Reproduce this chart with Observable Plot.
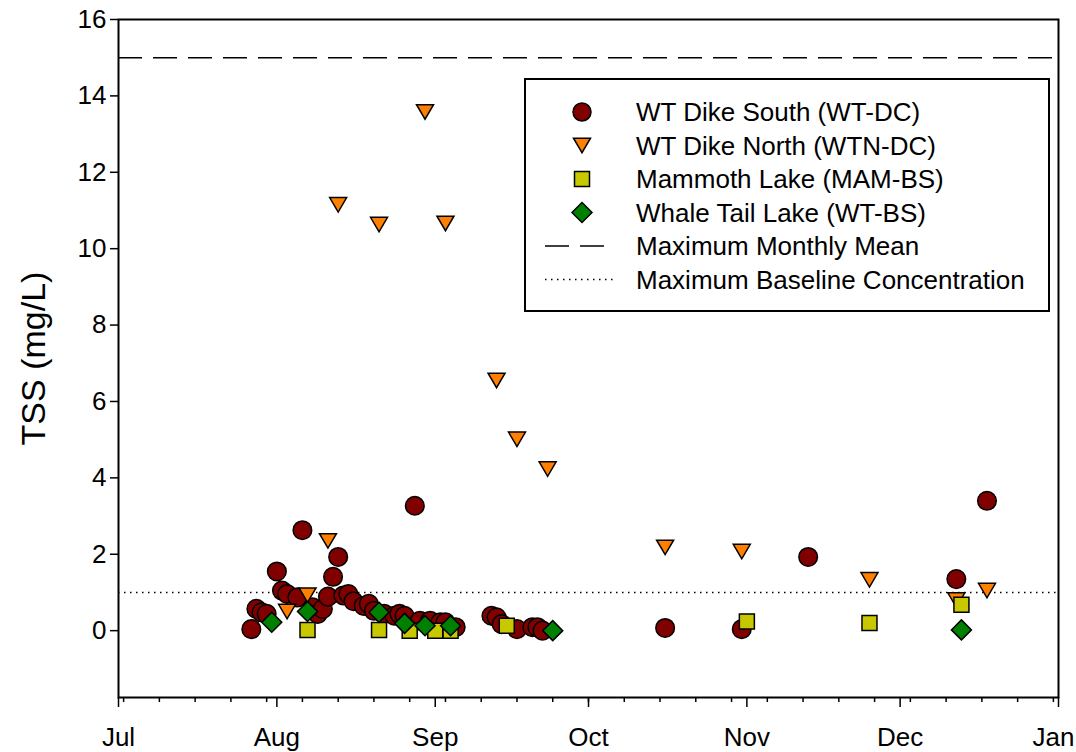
<!DOCTYPE html>
<html>
<head>
<meta charset="utf-8">
<script src="https://cdn.jsdelivr.net/npm/d3@7"></script>
<script src="https://cdn.jsdelivr.net/npm/@observablehq/plot@0.6"></script>
<style>
  body { margin: 0; background: #fff; }
  #wrap { position: relative; width: 1076px; height: 752px; font-family: "Liberation Sans", Arial, sans-serif; }
  #legend { position: absolute; left: 524px; top: 78px; width: 522px; height: 230px; border: 2px solid #000; background: #fff; }
</style>
</head>
<body>
<div id="wrap"></div>
<script>
// WT Dike South (WT-DC)
const wtdcDates = ["2019-07-27","2019-07-28","2019-07-29","2019-07-30","2019-08-01","2019-08-02","2019-08-03","2019-08-05","2019-08-06","2019-08-08","2019-08-09","2019-08-10","2019-08-11","2019-08-12","2019-08-13","2019-08-14","2019-08-15","2019-08-16","2019-08-18","2019-08-19","2019-08-20","2019-08-22","2019-08-24","2019-08-25","2019-08-26","2019-08-28","2019-08-29","2019-08-31","2019-09-02","2019-09-03","2019-09-05","2019-09-12","2019-09-13","2019-09-14","2019-09-17","2019-09-20","2019-09-21","2019-09-22","2019-10-16","2019-10-31","2019-11-13","2019-12-12","2019-12-18"];
const wtdcValues = [0.04,0.57,0.48,0.44,1.55,1.05,0.96,0.87,2.63,0.61,0.44,0.57,0.89,1.41,1.93,0.92,0.96,0.77,0.65,0.70,0.52,0.44,0.39,0.44,0.39,3.27,0.26,0.26,0.22,0.22,0.09,0.39,0.35,0.17,0.04,0.09,0.09,0.0,0.07,0.04,1.93,1.35,3.40];

// WT Dike North (WTN-DC)
const wtndcDates = ["2019-08-03","2019-08-07","2019-08-11","2019-08-13","2019-08-21","2019-08-30","2019-09-03","2019-09-13","2019-09-17","2019-09-23","2019-10-16","2019-10-31","2019-11-25","2019-12-12","2019-12-18"];
const wtndcValues = [0.50,0.93,2.35,11.15,10.63,13.58,10.66,6.55,5.01,4.23,2.18,2.07,1.33,0.80,1.05];

// Mammoth Lake (MAM-BS)
const mamDates = ["2019-08-07","2019-08-21","2019-08-27","2019-09-01","2019-09-04","2019-09-15","2019-11-01","2019-11-25","2019-12-13"];
const mamValues = [0.02,0.02,0.0,0.0,0.0,0.13,0.24,0.20,0.68];

// Whale Tail Lake (WT-BS)
const wtbsDates = ["2019-07-31","2019-08-07","2019-08-21","2019-08-26","2019-08-30","2019-09-04","2019-09-24","2019-12-13"];
const wtbsValues = [0.22,0.50,0.48,0.19,0.13,0.13,0.0,0.02];

// Guideline values
const maxMonthlyMean = 15;
const maxBaseline = 1;

// Axis ticks
const yTicks = [0, 2, 4, 6, 8, 10, 12, 14, 16];
const xStart = "2019-07-01", xEnd = "2020-01-01";

const seriesNames = ["WT Dike South (WT-DC)", "WT Dike North (WTN-DC)", "Mammoth Lake (MAM-BS)", "Whale Tail Lake (WT-BS)", "Maximum Monthly Mean", "Maximum Baseline Concentration"];
const colors = { wtdc: "#800000", wtndc: "#FF8000", mam: "#C8C800", wtbs: "#008000" };

const toRows = (dates, values) => dates.map((d, i) => ({ date: new Date(d), value: values[i] }));
const wtdc = toRows(wtdcDates, wtdcValues);
const wtndc = toRows(wtndcDates, wtndcValues);
const mam = toRows(mamDates, mamValues);
const wtbs = toRows(wtbsDates, wtbsValues);

// custom symbols
const triDown = { draw(ctx) { const w = 17, h = 14.5; ctx.moveTo(-w/2, -h/2); ctx.lineTo(w/2, -h/2); ctx.lineTo(0, h/2); ctx.closePath(); } };
const sq = { draw(ctx) { const a = 7.5; ctx.moveTo(-a, -a); ctx.lineTo(a, -a); ctx.lineTo(a, a); ctx.lineTo(-a, a); ctx.closePath(); } };
const diam = { draw(ctx) { const a = 10; ctx.moveTo(0, -a); ctx.lineTo(a, 0); ctx.lineTo(0, a); ctx.lineTo(-a, 0); ctx.closePath(); } };

const d0 = new Date(xStart), d1 = new Date(xEnd);
const monthTicks = d3.utcMonth.range(d0, d3.utcDay.offset(d1, 1));
const weekTicks = d3.utcTuesday.range(d0, d1);
const fmtMonth = d3.utcFormat("%b");
const lastTick = monthTicks[monthTicks.length - 1];

const chart = Plot.plot({
  width: 1076,
  height: 752,
  marginLeft: 118,
  marginRight: 18,
  marginTop: 19,
  marginBottom: 55,
  style: { fontFamily: "'Liberation Sans', Arial, sans-serif", fontSize: "26px", color: "#000", background: "#fff" },
  x: { type: "utc", domain: [d0, d1] },
  y: { domain: [-1.75, 16] },
  marks: [
    Plot.ruleY([maxMonthlyMean], { stroke: "#000", strokeWidth: 1.5, strokeDasharray: "24,11" }),
    Plot.ruleY([maxBaseline], { stroke: "#000", strokeWidth: 1.5, strokeDasharray: "1.5,4.5" }),
    Plot.dot(wtdc, { x: "date", y: "value", r: 9.3, fill: colors.wtdc, stroke: "#000", strokeWidth: 1.5 }),
    Plot.dot(wtndc, { x: "date", y: "value", symbol: triDown, fill: colors.wtndc, stroke: "#000", strokeWidth: 1.5 }),
    Plot.dot(mam, { x: "date", y: "value", symbol: sq, fill: colors.mam, stroke: "#000", strokeWidth: 1.5 }),
    Plot.dot(wtbs, { x: "date", y: "value", symbol: diam, fill: colors.wtbs, stroke: "#000", strokeWidth: 1.5 }),
    Plot.axisX(weekTicks, { tickSize: 5, tickFormat: () => "", strokeWidth: 1.5, label: null }),
    Plot.axisX(monthTicks, { tickSize: 10, tickPadding: 20, tickFormat: d => (+d === +lastTick ? "" : fmtMonth(d)), strokeWidth: 1.5, label: null, fontSize: 26 }),
    Plot.text([lastTick], { x: d => d, frameAnchor: "bottom", lineAnchor: "top", dy: 30, dx: -5, text: d => fmtMonth(d), fontSize: 26, fill: "#000" }),
    Plot.axisY(yTicks, { tickSize: 8, tickPadding: 4, strokeWidth: 1.5, label: null, fontSize: 26 }),
    Plot.text(["TSS (mg/L)"], { frameAnchor: "left", textAnchor: "middle", lineAnchor: "middle", rotate: -90, dx: -84, fontSize: 34, fill: "#000" }),
    Plot.frame({ stroke: "#000", strokeWidth: 2 })
  ]
});

const wrap = document.getElementById("wrap");
wrap.appendChild(chart);

// Legend overlay
const legend = document.createElement("div");
legend.id = "legend";
wrap.appendChild(legend);
const ls = d3.select(legend).append("svg").attr("width", 522).attr("height", 230)
  .style("font-family", "'Liberation Sans', Arial, sans-serif").style("font-size", "26px");
const rowY = i => 32 + 33.5 * i;
const symX = 56, textX = 110;
const symDefs = [
  { sym: d3.symbol(d3.symbolCircle, Math.PI * 81)(), fill: colors.wtdc },
  { sym: (() => { const p = d3.path(); triDown.draw(p); return p.toString(); })(), fill: colors.wtndc },
  { sym: (() => { const p = d3.path(); sq.draw(p); return p.toString(); })(), fill: colors.mam },
  { sym: (() => { const p = d3.path(); diam.draw(p); return p.toString(); })(), fill: colors.wtbs }
];
symDefs.forEach((s, i) => {
  ls.append("path").attr("d", s.sym).attr("transform", `translate(${symX},${rowY(i)})`)
    .attr("fill", s.fill).attr("stroke", "#000").attr("stroke-width", 1.5);
});
ls.append("line").attr("x1", 19).attr("x2", 80).attr("y1", rowY(4)).attr("y2", rowY(4))
  .attr("stroke", "#000").attr("stroke-width", 1.5).attr("stroke-dasharray", "24,11");
ls.append("line").attr("x1", 19).attr("x2", 90).attr("y1", rowY(5)).attr("y2", rowY(5))
  .attr("stroke", "#000").attr("stroke-width", 1.5).attr("stroke-dasharray", "1.5,4.5");
seriesNames.forEach((n, i) => {
  ls.append("text").attr("x", textX).attr("y", rowY(i)).attr("dominant-baseline", "central").attr("fill", "#000").text(n);
});
</script>
</body>
</html>
